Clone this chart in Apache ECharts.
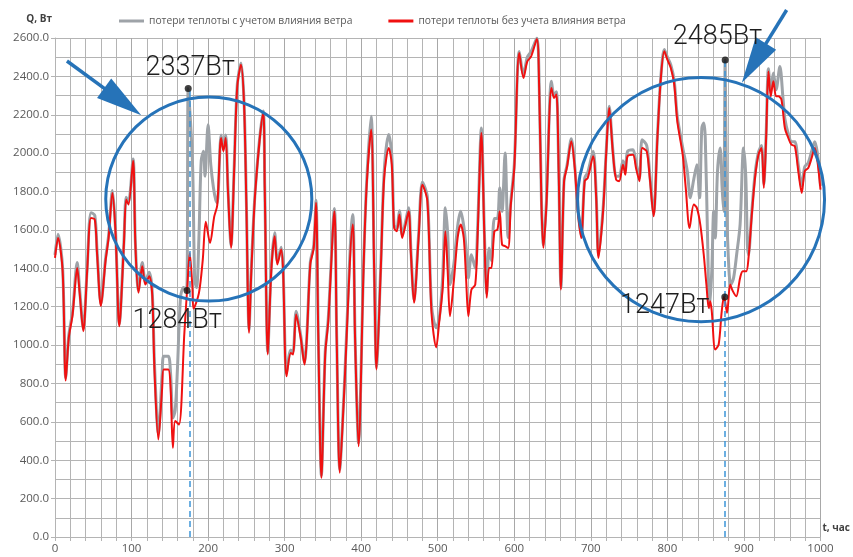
<!DOCTYPE html>
<html><head><meta charset="utf-8">
<script src="https://cdn.jsdelivr.net/npm/echarts@6/dist/echarts.min.js"></script>
<style>html,body{margin:0;padding:0;background:#fff}#c{width:853px;height:557px}</style>
</head><body><div id="c"></div>
<script>
const nameGrey = 'потери теплоты с учетом влияния ветра';
const nameRed = 'потери теплоты без учета влияния ветра';

const hoursRed = [0,4,10,14,18,23,29,32,37,42,47,52,55,60,66,70,75,79,84,90,93,96,102,105,109,114,118,123,127,130,135,140,142,148,151,154,157,162,169,173,176,179.5,181,188,193,197,202.5,208,212,217,220,223,226,230,234,238,243,247,250,253.5,256.5,262,272,274,278,282.5,287,290.5,295.5,298,302.5,308,311,315,321,326,329,333.5,338,341,344,348,353,357,365,368,372,377,389,392,396.5,403,407,413,417,420,425.5,430,436,440,443,446.5,450,453.5,457,462,465,469,475,480,486.5,492,498,502,506.5,510,513,516,521,526,530,534,537,540,544,549,552,557,561,564,567,570,574,578,581,584,588,592,595.5,600,606.5,612,617,622,629.5,632.5,635.5,638,642,648.5,652,655,658,661,665,669,674.5,679,683,687.5,692,696,703,707,710,716,720,724,729,733,737,742,745,748,755,759,763.5,767,773,777,782,787,791.5,796,800,804.5,809,813,820,824,829,834.5,838.5,843,847.5,851,854,856,858,862.5,867,871,874,878,882,885.5,890,895,898.5,903,906,910,914.5,919,923,926,929,932,935,938.5,942,945,949,953.5,958,962,966.5,971,975.5,979.5,984,988.5,992.5,996,1000];
const lossRed = [1454,1558,1385,815,1037,1159,1402,1280,1072,1385,1662,1654,1472,1203,1437,1558,1793,1593,1098,1524,1758,1732,1961,1524,1272,1411,1315,1359,1263,864,508,777,873,873,777,465,604,586,1063,1313,1480,1303,1190,1271,1443,1643,1532,1669,1730,2079,2010,2079,1800,1506,1906,2340,2461,2253,1732,1064,1385,1819,2209,1819,951,1385,1567,1420,1498,1385,838,959,951,1159,1037,899,1037,1420,1506,1741,1037,308,951,1124,1697,1037,335,690,1628,1037,473,1385,1819,2123,1385,873,1385,1871,2027,1940,1610,1593,1680,1558,1610,1697,1472,1220,1558,1836,1749,1159,988,1124,1298,1593,1385,1150,1333,1558,1628,1558,1350,1150,1289,1315,1558,2105,1558,1246,1402,1402,1593,1602,1697,1524,1515,1506,1732,1923,2522,2392,2478,2504,2595,2340,1732,1506,1732,2340,2288,2305,1906,1289,1850,1930,2062,1923,1697,1558,1854,1871,1984,1767,1454,1697,1992,2235,1992,1862,1854,1940,1888,1984,1992,1923,1854,2027,2010,1871,1671,2079,2392,2531,2487,2444,2357,2166,1992,1819,1610,1732,1715,1628,1472,1315,1194,1229,1176,977,1003,1176,1254,1168,1315,1281,1254,1350,1385,1385,1454,1663,1871,1992,2027,1819,2079,2426,2296,2374,2296,2296,2279,2131,2079,2044,2036,1906,1793,1906,1923,1975,2027,1958,1810];

const hoursGrey = [0,4,10,14,18,23,29,32,37,42,47,52,55,60,66,70,75,79,84,90,93,96,102,105,109,114,118,123,127,130,135,140,142,148,151,154,157,160,164,168,172,174,177,180,182.5,185,188,191,194,196,200,203.5,207,210,212,217,220,223,226,230,234,238,243,247,250,253.5,256.5,262,272,274,278,282.5,287,290.5,295.5,298,302.5,308,311,315,321,326,329,333.5,338,341,344,348,353,357,365,368,372,377,389,392,396.5,403,407,413,417,420,425.5,430,436,440,443,446.5,450,453.5,457,462,465,469,475,480,486.5,492,498,502,506.5,510,513,516,521,526,530,534,537,540,544,549,552,557,561,564,567,570,574,578,581,584,588,592,595.5,600,606.5,612,617,622,629.5,632.5,635.5,638,642,648.5,652,655,658,661,665,669,674.5,679,683,687.5,692,696,703,707,710,716,720,724,729,733,737,742,745,748,755,759,763.5,767,773,777,782,787,791.5,796,800,804.5,809,813,820,826,830,834,838.5,842,845,847.5,849.5,852.5,855,858,860.5,862.5,865.5,869,871.5,873.5,875.5,877.5,880.5,883,886.5,890.5,895,899.5,902.5,904.5,906,910,914.5,919,923,926,929,932,935,938.5,942,947,951,953.5,958,962,966.5,971,975.5,979.5,984,988.5,992.5,996,1000];
const lossGrey = [1470,1578,1400,830,1050,1175,1430,1300,1085,1400,1690,1675,1490,1215,1450,1570,1805,1605,1110,1535,1770,1745,1970,1535,1285,1430,1330,1380,1280,900,540,850,942,942,850,621,660,880,1250,1300,1284,2337,2166,1900,1340,1300,1558,1960,2010,1880,2148,1940,1820,1756,1740,2095,2025,2095,1815,1520,1920,2350,2470,2265,1745,1080,1400,1830,2220,1830,965,1400,1585,1435,1510,1400,855,975,965,1176,1050,910,1050,1430,1520,1755,1050,320,965,1140,1712,1050,350,705,1680,1050,490,1400,1840,2192,1400,885,1400,1900,2097,1990,1625,1610,1700,1575,1625,1715,1490,1235,1575,1850,1770,1200,1090,1140,1360,1715,1580,1315,1420,1620,1697,1620,1506,1350,1470,1400,1600,2131,1580,1270,1506,1440,1660,1660,1819,1697,2001,1560,1750,1940,2530,2410,2500,2530,2600,2360,1750,1520,1750,2375,2300,2320,1920,1300,1860,1940,2075,1935,1710,1570,1870,1900,2010,1790,1470,1710,2005,2245,2005,1880,1880,1960,1910,2010,2018,1950,1870,2070,2040,1890,1685,2090,2400,2540,2500,2460,2375,2190,2030,1906,1767,1854,1940,1767,2131,2157,2079,1558,1194,1385,1697,1558,1906,2027,1819,1697,2485,1732,1385,1315,1350,1472,1628,2027,1871,1524,1470,1680,1890,2005,2040,1840,2100,2440,2330,2418,2330,2452,2288,2180,2100,2060,2060,1940,1830,1930,1950,2010,2060,2000,1830];

// highlighted points (hour, value, label)
const markHours = [174, 172.5, 875.5, 875];
const markValues = [2337, 1284, 2485, 1250];
const markLabels = ['2337Вт', '1284Вт', '2485Вт', '1247Вт'];
const dashHours = [176, 875.5];
const dashTops = [2337, 2485];

const chart = echarts.init(document.getElementById('c'));
const gridColor = '#b4b4b4';
chart.setOption({
  animation: false,
  grid: {left: 55, right: 29, top: 38, bottom: 20},
  legend: {
    data: [nameGrey, nameRed], top: 11, left: 114, icon: 'rect',
    itemWidth: 25, itemHeight: 3, itemGap: 36,
    textStyle: {fontSize: 10.3, color: '#595959', fontFamily: 'Open Sans'}
  },
  xAxis: {
    type: 'value', min: 0, max: 1000, interval: 100,
    name: 't, час', nameLocation: 'end', nameGap: 2,
    nameTextStyle: {fontSize: 10, fontWeight: 'bold', color: '#404040', fontFamily: 'Open Sans', align: 'left', verticalAlign: 'bottom', padding: [0, 0, 4, 0]},
    axisLine: {lineStyle: {color: gridColor}},
    axisTick: {show: true, length: 4, lineStyle: {color: gridColor}},
    minorTick: {show: true, splitNumber: 5, length: 4, lineStyle: {color: gridColor}},
    splitLine: {show: true, lineStyle: {color: '#a8a8a8'}},
    minorSplitLine: {show: true, lineStyle: {color: gridColor}},
    axisLabel: {color: '#595959', fontSize: 11.5, fontFamily: 'Open Sans', margin: 6, formatter: v => String(v)}
  },
  yAxis: {
    type: 'value', min: 0, max: 2600, interval: 200,
    name: 'Q, Вт', nameLocation: 'end', nameGap: 19,
    nameTextStyle: {fontSize: 10, fontWeight: 'bold', color: '#404040', fontFamily: 'Open Sans', align: 'right', verticalAlign: 'middle', padding: [0, 3, 0, 0]},
    axisLine: {show: true, lineStyle: {color: gridColor}},
    axisTick: {show: true, length: 4, lineStyle: {color: gridColor}},
    minorTick: {show: false, splitNumber: 2},
    splitLine: {show: true, lineStyle: {color: gridColor}},
    minorSplitLine: {show: true, lineStyle: {color: gridColor}},
    axisLabel: {color: '#595959', fontSize: 11.5, fontFamily: 'Open Sans', margin: 6, formatter: v => v.toFixed(1)}
  },
  series: [
    {
      name: nameGrey, type: 'line', smooth: 0.3, showSymbol: false, z: 2,
      data: hoursGrey.map((h, i) => [h, lossGrey[i]]),
      lineStyle: {color: '#9ea3a8', width: 3}, itemStyle: {color: '#9ea3a8'}
    },
    {
      name: nameRed, type: 'line', smooth: 0.3, showSymbol: false, z: 3,
      data: hoursRed.map((h, i) => [h, lossRed[i]]),
      lineStyle: {color: '#f01010', width: 2}, itemStyle: {color: '#f01010'},
      markLine: {
        silent: true, symbol: ['none', 'none'], label: {show: false},
        lineStyle: {color: '#3d95d8', width: 1.5, type: [6, 4]},
        data: dashHours.map((h, i) => [{coord: [h, 0]}, {coord: [h, dashTops[i]]}])
      }
    },
    {
      name: 'marks', type: 'scatter', symbolSize: 7, z: 6,
      itemStyle: {color: '#111'},
      data: markHours.map((h, i) => [h, markValues[i]])
    }
  ]
});

// annotation geometry in data coordinates
const labelAnchors = [[176.5, 2444], [159.5, 1126], [865.5, 2605], [796.5, 1204]];
const ellipses = [
  {t: 200.9, q: 1761, dt: 134.6, dq: 531.5},
  {t: 844, q: 1758, dt: 161.3, dq: 636}
];
const arrows = [
  {from: [15.6, 2480], to: [112.7, 2197]},
  {from: [955.8, 2746], to: [897.3, 2367]}
];
const P = (t, q) => chart.convertToPixel({gridIndex: 0}, [t, q]);
const blue = '#2673b8';
const g = [];
ellipses.forEach(e => {
  const c = P(e.t, e.q), r = P(e.t + e.dt, e.q + e.dq);
  g.push({type: 'ellipse', z: 20, shape: {cx: c[0], cy: c[1], rx: r[0] - c[0], ry: c[1] - r[1]},
    style: {fill: 'none', stroke: blue, lineWidth: 3}});
});
arrows.forEach(a => {
  const s = P(a.from[0], a.from[1]), tp = P(a.to[0], a.to[1]);
  const dx = tp[0] - s[0], dy = tp[1] - s[1], L = Math.hypot(dx, dy);
  const ux = dx / L, uy = dy / L, hl = 46, hw = 12;
  const bx = tp[0] - ux * hl, by = tp[1] - uy * hl;
  g.push({type: 'line', z: 20, shape: {x1: s[0], y1: s[1], x2: bx + ux * 4, y2: by + uy * 4},
    style: {stroke: blue, lineWidth: 3.5}});
  g.push({type: 'polygon', z: 20, shape: {points: [[tp[0], tp[1]], [bx - uy * hw, by + ux * hw], [bx + uy * hw, by - ux * hw]]},
    style: {fill: blue}});
});
labelAnchors.forEach((a, i) => {
  const p = P(a[0], a[1]);
  g.push({type: 'text', z: 30, x: p[0], y: p[1],
    style: {text: markLabels[i], fontSize: 27, fontFamily: 'Roboto', fontWeight: 300, fill: '#1e1e1e', align: 'center', verticalAlign: 'middle'}});
});
chart.setOption({graphic: g});
</script></body></html>
